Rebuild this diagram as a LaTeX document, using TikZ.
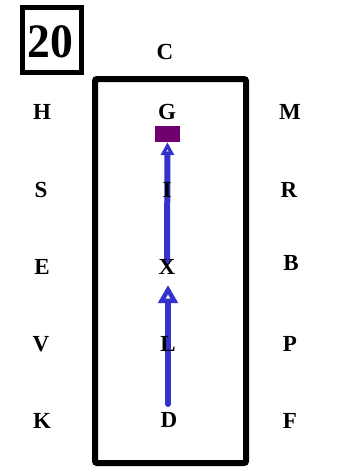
\documentclass[tikz,border=0pt]{standalone}
\usepackage{fontspec}
\setmainfont{Liberation Serif}
\usetikzlibrary{arrows.meta}
\definecolor{arrowblue}{RGB}{51,51,204}
\definecolor{markpurple}{RGB}{112,0,112}
\begin{document}
\begin{tikzpicture}[x=1pt,y=-1pt,
  lbl/.style={font=\fontsize{23}{23}\selectfont\bfseries, inner sep=0pt},
  smalltip/.tip={Triangle[open, length=13pt, width=13pt, line width=4.5pt]},
  bigtip/.tip={Triangle[open, length=18pt, width=19pt, line width=5.5pt]},
  arr/.style={draw=arrowblue, line width=6pt, line cap=round}]
\useasboundingbox (0,0) rectangle (342,467);
% number box
\node[draw=black, line width=5pt, minimum width=59pt, minimum height=65pt, inner sep=0pt] (num) at (52,39.5) {};
\node[font=\fontsize{48}{48}\selectfont\bfseries, inner sep=0pt, xscale=0.95] (numtxt) at (50.5,41.5) {20};
% arena
\draw[line width=6pt, rounded corners=2pt] (95,79) rectangle (246,463);
\node[lbl] (C) at (165,52) {C};
\node[lbl] (H) at (42,112) {H};
\node[lbl] (G) at (167,112) {G};
\node[lbl] (M) at (290,112) {M};
\node[lbl] (S) at (41,190) {S};
\node[lbl] (R) at (289,190) {R};
\node[lbl] (E) at (42,267) {E};
\node[lbl] (B) at (291,263) {B};
\node[lbl] (V) at (41,344) {V};
\node[lbl] (P) at (290,344) {P};
\node[lbl] (K) at (42,421) {K};
\node[lbl] (F) at (290,421) {F};
% marker
\node[fill=markpurple, minimum width=25pt, minimum height=16pt, inner sep=0pt] (mark) at (167.5,134) {};
% arrows
\coordinate (xs) at (167,262);
\coordinate (ds) at (168,404);
\coordinate (xb) at (168,285);
\draw[arr, -smalltip] (xs) -- (mark.south);
\draw[arr, -bigtip] (ds) -- (xb);
\node[lbl] (I) at (167,190) {I};
\node[lbl] (X) at (167,267) {X};
\node[lbl] (L) at (168,344) {L};
\node[lbl] (D) at (169,420) {D};
\end{tikzpicture}
\end{document}
